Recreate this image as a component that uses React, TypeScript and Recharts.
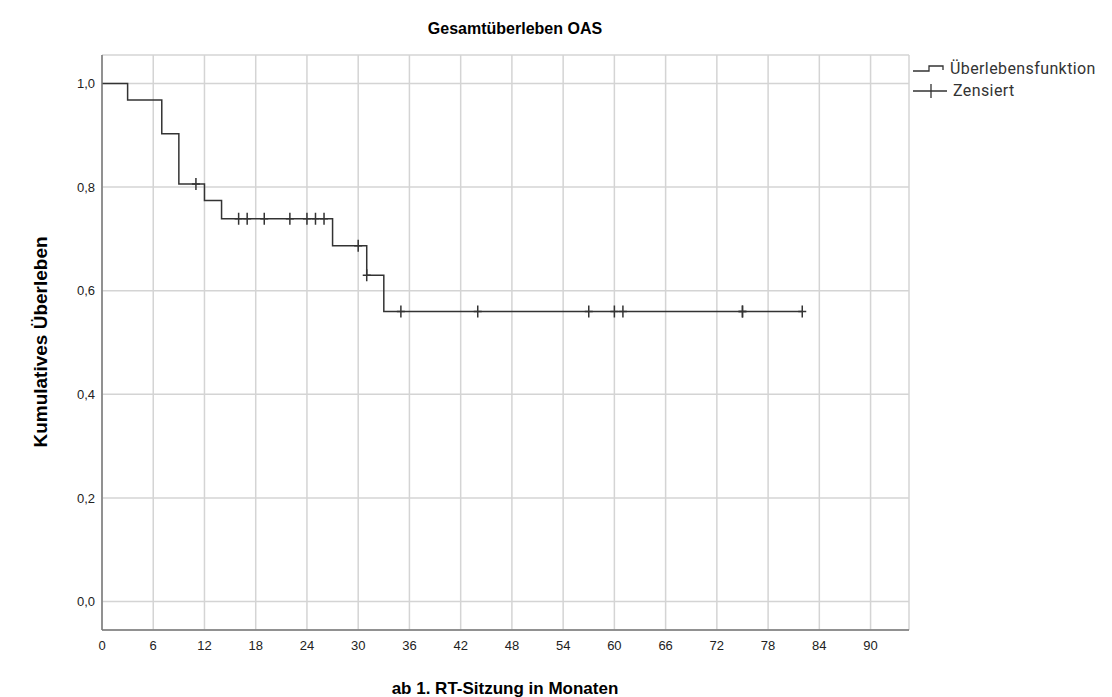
import { ComposedChart, Line, Scatter, XAxis, YAxis, CartesianGrid, Legend } from 'recharts'

// Kaplan-Meier step points (month, cumulative survival)
const months = [0, 3, 7, 9, 12, 14, 27, 31, 33, 82]
const survival = [1.0, 0.968, 0.903, 0.806, 0.774, 0.739, 0.687, 0.63, 0.56, 0.56]

// censored observations
const censoredMonths = [11, 16, 17, 19, 22, 24, 25, 26, 30, 31, 35, 44, 57, 60, 61, 75, 75, 82]
const censoredSurvival = [
  0.806, 0.739, 0.739, 0.739, 0.739, 0.739, 0.739, 0.739, 0.687, 0.63,
  0.56, 0.56, 0.56, 0.56, 0.56, 0.56, 0.56, 0.56,
]

const xTicks = [0, 6, 12, 18, 24, 30, 36, 42, 48, 54, 60, 66, 72, 78, 84, 90]
const yTicks = [0, 0.2, 0.4, 0.6, 0.8, 1.0]

const curve = months.map((t, i) => ({ t, s: survival[i] }))
const censored = censoredMonths.map((t, i) => ({ t, s: censoredSurvival[i] }))

const LINE = '#333'
const FONT = '"Liberation Sans", Arial, sans-serif'

const CensorMark = (props: any) => {
  const { cx, cy } = props
  if (cx == null || cy == null) return null
  return (
    <path
      d={`M${cx},${cy - 6}V${cy + 6}M${cx - 4},${cy}H${cx + 4}`}
      stroke={LINE}
      strokeWidth={1.5}
      fill="none"
    />
  )
}

const renderLegend = () => (
  <div
    style={{
      fontFamily: 'Roboto, sans-serif', fontSize: 16, letterSpacing: 0.4,
      color: '#333', lineHeight: '22px',
    }}
  >
    <div style={{ display: 'flex', alignItems: 'center', height: 22 }}>
      <svg width={45} height={22} style={{ flex: 'none' }}>
        <path d="M8,13H24V8H38V12" stroke={LINE} strokeWidth={1.3} fill="none" />
      </svg>
      <span>Überlebensfunktion</span>
    </div>
    <div style={{ display: 'flex', alignItems: 'center', height: 22 }}>
      <svg width={48} height={22} style={{ flex: 'none' }}>
        <path d="M8,11H42M26,4V18" stroke={LINE} strokeWidth={1.3} fill="none" />
      </svg>
      <span>Zensiert</span>
    </div>
  </div>
)

export default function App() {
  return (
    <div style={{ position: 'absolute', left: 0, top: 0, width: 1112, height: 697, background: '#fff' }}>
      <div
        style={{
          position: 'absolute', left: 0, top: 20, width: 1030, textAlign: 'center',
          fontFamily: FONT, fontWeight: 'bold', fontSize: 16, color: '#000',
        }}
      >
        Gesamtüberleben OAS
      </div>
      <div
        style={{
          position: 'absolute', left: 0, top: 679, width: 1010, textAlign: 'center',
          fontFamily: FONT, fontWeight: 'bold', fontSize: 17, color: '#000',
        }}
      >
        ab 1. RT-Sitzung in Monaten
      </div>
      <div style={{ position: 'absolute', left: 41, top: 342, width: 0, height: 0 }}>
        <div
          style={{
            position: 'absolute', left: -150, top: -11, width: 300, textAlign: 'center',
            transform: 'rotate(-90deg)', fontFamily: FONT, fontWeight: 'bold', fontSize: 19,
            color: '#000', lineHeight: '22px',
          }}
        >
          Kumulatives Überleben
        </div>
      </div>
      <ComposedChart
        width={1112}
        height={697}
        margin={{ top: 55, right: 203, bottom: 37, left: 42 }}
      >
        <CartesianGrid stroke="#d4d4d4" strokeWidth={1.5} />
        <XAxis
          type="number"
          dataKey="t"
          domain={[0, 94.5]}
          ticks={xTicks}
          allowDataOverflow
          height={30}
          tickLine={false}
          tickMargin={5}
          stroke="#777"
          strokeWidth={1.5}
          tick={{ fill: '#222', fontSize: 13, fontFamily: FONT }}
        />
        <YAxis
          type="number"
          domain={[-0.055, 1.055]}
          ticks={yTicks}
          allowDataOverflow
          width={60}
          tickLine={false}
          tickMargin={1}
          stroke="#777"
          strokeWidth={1.5}
          tickFormatter={(v: number) => v.toFixed(1).replace('.', ',')}
          tick={{ fill: '#222', fontSize: 13, fontFamily: FONT }}
        />
        <Legend
          layout="horizontal"
          verticalAlign="middle"
          align="center"
          content={renderLegend}
          wrapperStyle={{ left: 905, top: 58, width: 207 }}
        />
        <Line
          data={curve}
          dataKey="s"
          type="stepAfter"
          stroke={LINE}
          strokeWidth={1.5}
          dot={false}
          activeDot={false}
          isAnimationActive={false}
        />
        <Scatter
          data={censored}
          dataKey="s"
          shape={CensorMark}
          isAnimationActive={false}
        />
      </ComposedChart>
    </div>
  )
}
